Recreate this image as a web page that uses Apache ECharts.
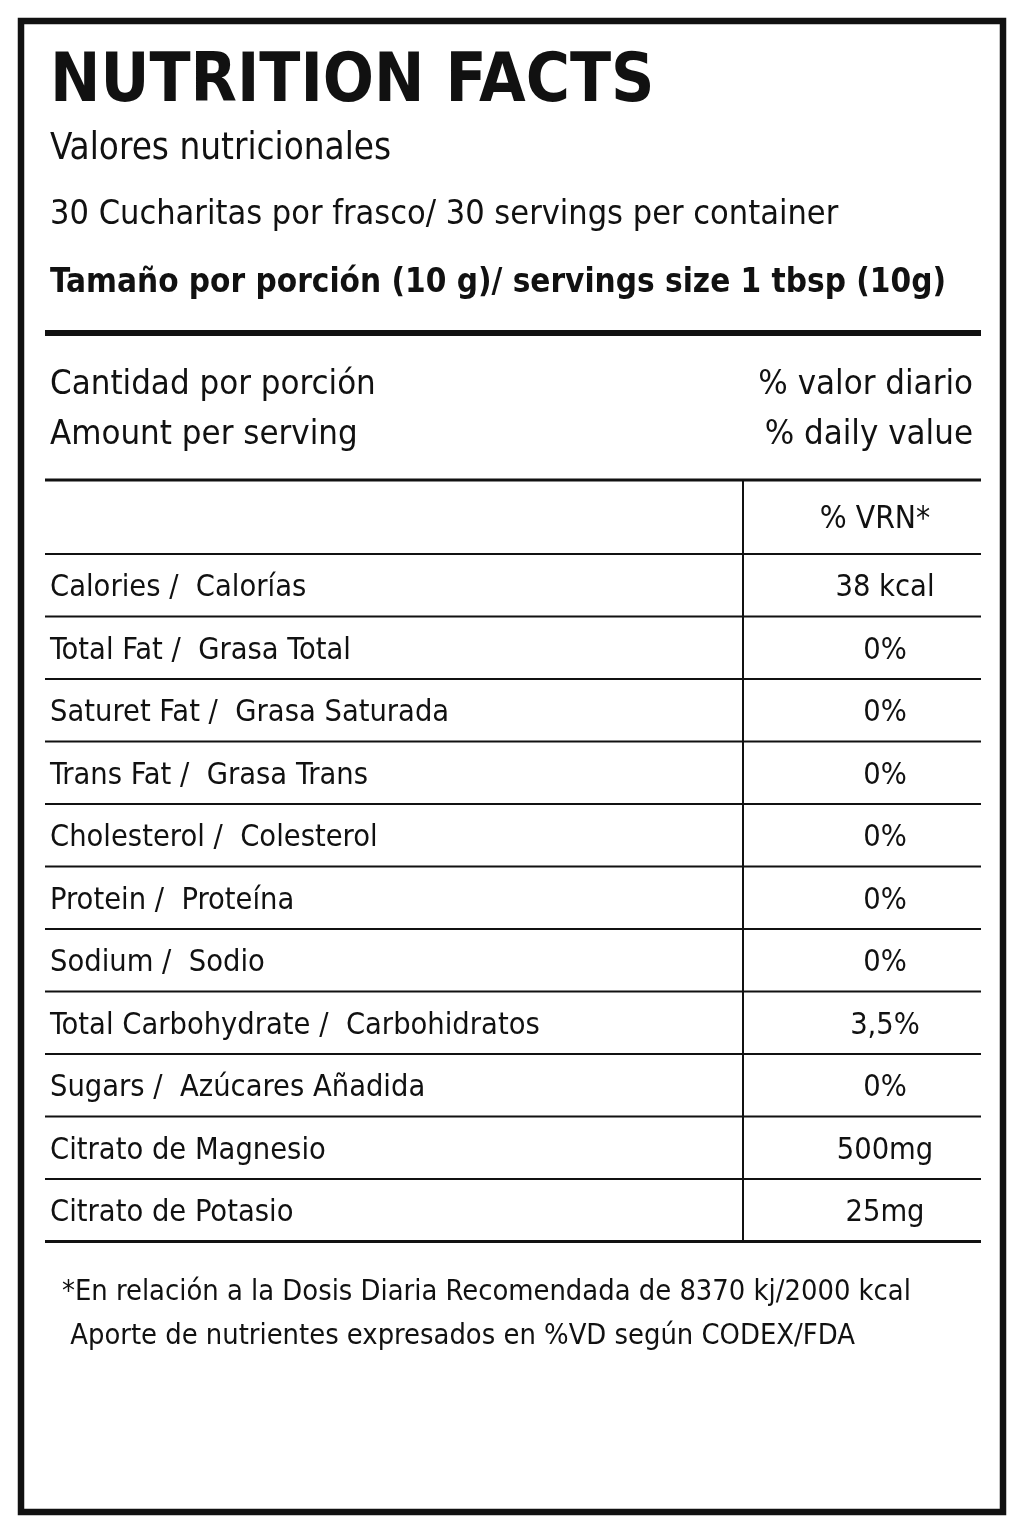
<!DOCTYPE html>
<html>
<head>
<meta charset="utf-8">
<script src="https://cdn.jsdelivr.net/npm/echarts@6/dist/echarts.min.js"></script>
<style>
  html, body { margin: 0; padding: 0; background: #fff; }
  #label { width: 1024px; height: 1536px; }
</style>
</head>
<body>
<div id="label"></div>
<script>
var dom = document.getElementById("label");
var label = echarts.init(dom, null, {renderer: 'canvas'});

// label texts
var title = "NUTRITION FACTS";
var subLines = ["Valores nutricionales", "30 Cucharitas por frasco/ 30 servings per container"];
var servingLine = "Tamaño por porción (10 g)/ servings size 1 tbsp (10g)";
var amountLeft = ["Cantidad por porción", "Amount per serving"];
var amountRight = ["% valor diario", "% daily value"];
var columnHeader = "% VRN*";
var nutrients = ["Calories /  Calorías", "Total Fat /  Grasa Total", "Saturet Fat /  Grasa Saturada",
  "Trans Fat /  Grasa Trans", "Cholesterol /  Colesterol", "Protein /  Proteína", "Sodium /  Sodio",
  "Total Carbohydrate /  Carbohidratos", "Sugars /  Azúcares Añadida", "Citrato de Magnesio", "Citrato de Potasio"];
var values = ["38 kcal", "0%", "0%", "0%", "0%", "0%", "0%", "3,5%", "0%", "500mg", "25mg"];
var footnotes = ["*En relación a la Dosis Diaria Recomendada de 8370 kj/2000 kcal",
  " Aporte de nutrientes expresados en %VD según CODEX/FDA"];

var FONT = '"DejaVu Sans Condensed", "DejaVu Sans", sans-serif';
var left = 45, right = 981, divX = 743;
var tableTop = 480, headerH = 74, rowH = 62.5;

var els = [];
// outer frame
els.push({type: 'rect', shape: {x: 21, y: 21, width: 982, height: 1491},
  style: {fill: '#fff', stroke: '#111', lineWidth: 6.5}});

function txt(x, y, s, size, weight, align) {
  els.push({type: 'text', x: x, y: y, style: {text: s, font: (weight || 'normal') + ' ' + size + 'px ' + FONT,
    fill: '#111', textAlign: align || 'left', textVerticalAlign: 'middle'}});
}
function line(x1, y1, x2, y2, w) {
  els.push({type: 'line', shape: {x1: x1, y1: y1, x2: x2, y2: y2}, style: {stroke: '#111', lineWidth: w}});
}

txt(50, 84, title, 67, 'bold');
txt(50, 150, subLines[0], 36.5);
txt(50, 215, subLines[1], 34);
txt(50, 283, servingLine, 33, 'bold');
line(left, 333, right, 333, 6);
amountLeft.forEach(function(s, i) { txt(50, 385 + i * 50, s, 34.5); });
amountRight.forEach(function(s, i) { txt(973, 385 + i * 50, s, 34.5, 'normal', 'right'); });

// table
line(left, tableTop, right, tableTop, 3);
txt(875, tableTop + headerH / 2 + 3, columnHeader, 31.5, 'normal', 'center');
var y0 = tableTop + headerH;
line(left, y0, right, y0, 2);
nutrients.forEach(function(name, i) {
  var cy = y0 + rowH * (i + 0.5) + 3;
  txt(50, cy, name, 30.5);
  txt(885, cy, values[i], 30.5, 'normal', 'center');
  var by = y0 + rowH * (i + 1);
  line(left, by, right, by, i === nutrients.length - 1 ? 3 : 2);
});
line(divX, tableTop, divX, y0 + rowH * nutrients.length, 2);

footnotes.forEach(function(s, i) { txt(62, 1293 + i * 44, s, 28.8); });

option = {
  animation: false,
  backgroundColor: '#fff',
  graphic: {elements: els}
};
label.setOption(option, true);
</script>
</body>
</html>
